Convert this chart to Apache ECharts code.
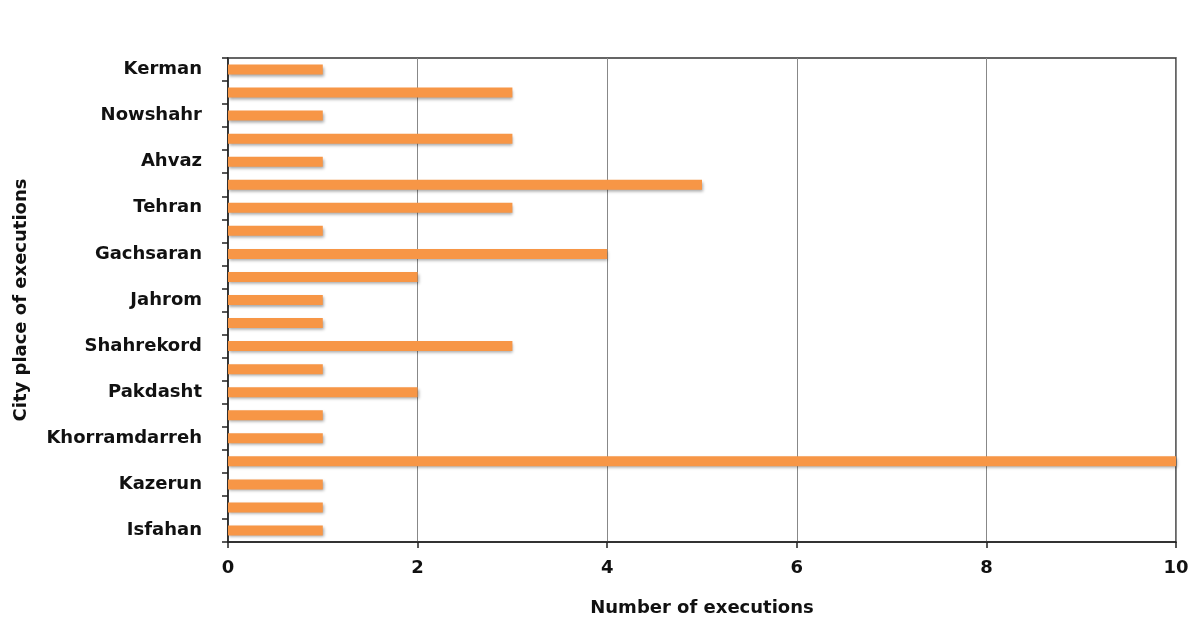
<!DOCTYPE html>
<html>
<head>
<meta charset="utf-8">
<script src="https://cdn.jsdelivr.net/npm/echarts@6/dist/echarts.min.js"></script>
<style>html,body{margin:0;padding:0;background:#fff}#c{width:1200px;height:631px}</style>
</head>
<body>
<div id="c"></div>
<script>
// Categories top to bottom (only every other name is labelled in the chart)
var cities = ['Kerman','Qom','Nowshahr','Shiraz','Ahvaz','Karaj','Tehran','Qazvin','Gachsaran','Tabriz',
  'Jahrom','Arak','Shahrekord','Yazd','Pakdasht','Zahedan','Khorramdarreh','Mashhad','Kazerun','Urmia','Isfahan'];
var executions = [1,3,1,3,1,5,3,1,4,2,1,1,3,1,2,1,1,10,1,1,1];
var xTicks = {min:0, max:10, interval:2};

var font = '"DejaVu Sans", Verdana, sans-serif';
var chart = echarts.init(document.getElementById('c'));
chart.setOption({
  animation:false,
  backgroundColor:'#fff',
  grid:{left:228, right:24, top:58, bottom:89, outerBoundsMode:'none', containLabel:false,
        show:true, borderColor:'#333', borderWidth:1.5, backgroundColor:'transparent'},
  xAxis:{
    type:'value', min:xTicks.min, max:xTicks.max, interval:xTicks.interval,
    name:'Number of executions', nameLocation:'middle', nameGap:57,
    nameTextStyle:{fontFamily:font, fontWeight:'bold', fontSize:18, color:'#111'},
    axisLine:{show:true, lineStyle:{color:'#222', width:1.5}},
    axisTick:{show:true, length:6, lineStyle:{color:'#222', width:1.5}},
    axisLabel:{fontFamily:font, fontWeight:'bold', fontSize:18, color:'#111', margin:17},
    splitLine:{show:true, lineStyle:{color:'#888', width:1}}
  },
  yAxis:{
    type:'category', data:cities, inverse:true,
    name:'City place of executions', nameLocation:'middle', nameGap:198, nameRotate:90,
    nameTextStyle:{fontFamily:font, fontWeight:'bold', fontSize:18, color:'#111'},
    axisLine:{show:true, lineStyle:{color:'#222', width:1.5}},
    axisTick:{show:true, interval:0, length:6, lineStyle:{color:'#222', width:1.5}},
    axisLabel:{interval:1, fontFamily:font, fontWeight:'bold', fontSize:18, color:'#111', margin:26},
    splitLine:{show:false}
  },
  series:[{
    type:'bar', data:executions, barWidth:10,
    itemStyle:{color:'#F79646', shadowColor:'rgba(0,0,0,0.35)', shadowBlur:3, shadowOffsetX:1, shadowOffsetY:2}
  }]
});
</script>
</body>
</html>
